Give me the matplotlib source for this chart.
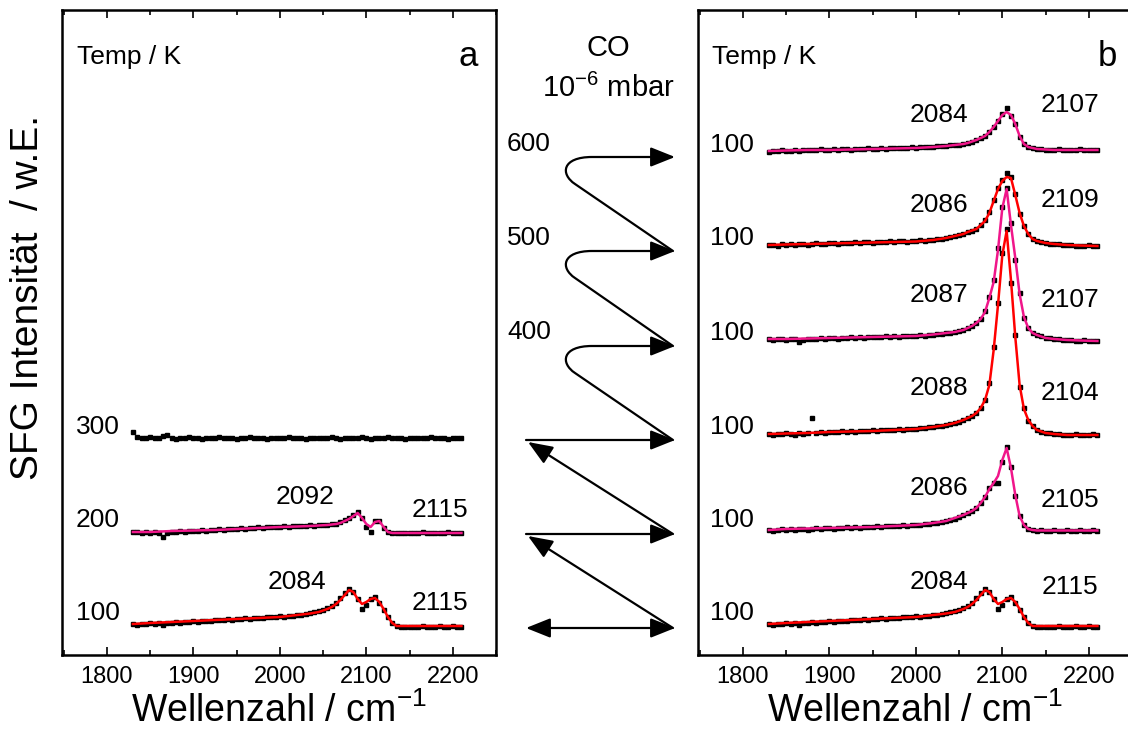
import numpy as np
import matplotlib
matplotlib.use("Agg")
import matplotlib.pyplot as plt
from matplotlib.ticker import MultipleLocator
from matplotlib.patches import FancyArrowPatch, ArrowStyle
from matplotlib.path import Path

plt.rcParams['font.family'] = ['Liberation Sans', 'DejaVu Sans']
plt.rcParams['mathtext.fontset'] = 'custom'
plt.rcParams['mathtext.rm'] = 'Liberation Sans'

# ---------------------------------------------------------------- data
wavenumber = np.arange(1830, 2211, 5)          # measured points, cm-1
fit_wavenumber = [1830, 1850, 1875, 1900, 1925, 1950, 1975, 2000, 2020, 2035,
                  2045, 2055, 2060, 2065, 2070, 2075, 2080, 2085, 2090, 2095,
                  2100, 2105, 2110, 2115, 2120, 2125, 2130, 2135, 2140, 2150,
                  2160, 2175, 2190, 2210]

# panel a: spectra recorded at the adsorption temperature
sfg_100K = [1, 0, 1, 1, 2, 1, 2, 0, 2, 2,
            3, 2, 3, 3, 4, 3, 4, 4, 4, 5,
            5, 5, 6, 5, 6, 6, 7, 6, 7, 7,
            7, 8, 8, 8, 9, 8, 9, 9, 10, 10,
            11, 12, 13, 14, 15, 17, 19, 22, 27, 32,
            36, 33, 26, 16, 20, 26, 28, 22, 15, 8,
            2, -1, -2, -2, -2, -2, -2, -1, -2, -2,
            -2, -1, -2, -2, -1, -2, -2]
fit_100K = [1, 2, 3, 4, 5, 6, 7, 8, 10, 11.5, 13, 16, 18, 21, 25, 30, 35, 33,
            26, 21, 23, 26, 27, 23, 16, 8, 2, -1, -1, -1, -1, -1, -1, -1]

sfg_200K = [-2, -2, -3, -2, -3, -2, -3, -7, -3, -2,
            -2, -1, -2, -1, -1, -1, 0, -1, 0, 0,
            1, 0, 1, 1, 1, 2, 1, 2, 2, 3,
            2, 3, 3, 3, 3, 4, 3, 4, 4, 4,
            4, 5, 4, 5, 5, 5, 6, 6, 8, 10,
            12, 15, 18, 12, 3, -2, 9, 9, 2, -2,
            -3, -3, -3, -3, -3, -3, -3, -2, -3, -3,
            -3, -3, -3, -2, -3, -3, -3]
fit_200K = [-2, -2, -1, -0.5, 0, 1, 2, 3, 3.5, 4, 4.5, 5, 5.5, 6, 7, 9, 11,
            14, 17, 12, 6, 3, 8, 9, 3, -2, -3, -3, -3, -3, -3, -3, -3, -3]

sfg_300K = [3, -2, -3, -3, -2, -3, -3, -1, 0, -3,
            -4, -3, -3, -2, -3, -3, -4, -3, -3, -3,
            -2, -3, -3, -3, -4, -3, -3, -2, -3, -3,
            -3, -4, -3, -3, -3, -3, -2, -3, -3, -3,
            -4, -3, -3, -3, -3, -3, -2, -3, -4, -3,
            -3, -3, -3, -2, -3, -4, -3, -3, -3, -2,
            -3, -3, -3, -4, -3, -3, -3, -3, -3, -2,
            -3, -3, -3, -4, -3, -3, -3]

# panel b: spectra recorded at 100 K after annealing to 200 ... 600 K
sfg_b200 = [0, -1, 0, 1, 0, 1, 0, 1, 1, 0,
            1, 2, 1, 2, 2, 1, 2, 2, 3, 2,
            3, 2, 3, 3, 3, 4, 3, 4, 4, 4,
            4, 5, 4, 5, 5, 5, 6, 6, 7, 7,
            8, 9, 10, 11, 13, 15, 17, 19, 22, 27,
            33, 42, 47, 47, 68, 83, 63, 34, 14, 5,
            1, 0, -1, 0, -1, -1, 0, -1, -1, 0,
            -1, -1, 0, -1, -1, 0, -1]
fit_b200 = [0, 1, 1.5, 2, 2.5, 3, 4, 5, 7, 9, 12, 15, 17, 19, 22, 27, 33, 41,
            47, 54, 70, 82, 62, 35, 14, 5, 1, 0, -0.5, -0.5, -0.5, -0.5, -0.5, -0.5]

sfg_b300 = [1, 0, 1, 1, 2, 1, 0, 2, 1, 2,
            17, 2, 3, 2, 3, 3, 3, 4, 3, 4,
            3, 4, 4, 4, 5, 4, 5, 5, 5, 5,
            6, 5, 6, 6, 6, 7, 7, 8, 8, 9,
            9, 10, 11, 12, 13, 15, 17, 19, 22, 27,
            35, 52, 88, 132, 182, 206, 152, 100, 48, 27,
            14, 9, 5, 3, 2, 2, 1, 1, 0, 0,
            0, 1, 0, 0, 0, 1, 0]
fit_b300 = [1, 1.5, 2, 3, 3.5, 4, 5, 6, 8, 10, 12, 15, 17, 19, 22, 27, 35, 50,
            85, 130, 180, 204, 155, 98, 50, 26, 15, 9, 5, 2, 1, 0, 0, 0]

sfg_b400 = [1, 0, 1, 1, 0, 1, 1, -2, 0, 1,
            1, 1, 2, 1, 2, 2, 1, 2, 2, 3,
            2, 3, 2, 3, 3, 3, 3, 4, 3, 4,
            3, 4, 4, 4, 4, 5, 4, 5, 5, 6,
            6, 7, 7, 8, 9, 10, 12, 14, 17, 21,
            29, 43, 60, 92, 133, 152, 117, 80, 47, 22,
            12, 7, 5, 4, 2, 2, 1, 1, 0, 0,
            0, -1, -1, 0, -1, -1, -1]
fit_b400 = [1, 1, 1.5, 2, 2.5, 3, 3.5, 4, 5.5, 7, 8, 10, 12, 14, 17, 21, 28, 42,
            58, 90, 132, 151, 115, 82, 46, 23, 12, 7, 5, 2, 1, 0, -0.5, -1]

sfg_b500 = [0, 0, -1, 1, 0, 1, 0, 1, 1, 0,
            1, 2, 1, 1, 2, 2, 1, 2, 2, 2,
            3, 2, 3, 3, 2, 3, 3, 3, 4, 3,
            4, 4, 3, 4, 4, 5, 4, 5, 5, 6,
            6, 7, 8, 9, 10, 11, 13, 14, 16, 20,
            25, 33, 45, 57, 65, 72, 68, 51, 31, 19,
            11, 6, 4, 3, 2, 1, 1, 1, 0, 0,
            0, -1, -1, -1, 0, -1, -1]
fit_b500 = [0, 0.5, 1, 1.5, 2, 2.5, 3, 3.5, 5, 7, 9, 11, 13, 14.5, 16, 20, 24,
            32, 44, 56, 64, 68, 67, 50, 32, 19, 11, 6, 4, 2, 1, 0, -0.5, -1]

sfg_b600 = [-2, -1, -1, 0, -1, -1, 0, -1, 0, 0,
            0, 0, 1, 0, 0, 1, 0, 1, 1, 0,
            1, 1, 1, 2, 1, 1, 2, 1, 2, 2,
            2, 2, 2, 3, 2, 3, 3, 3, 3, 4,
            4, 4, 5, 5, 5, 6, 7, 8, 10, 12,
            14, 18, 23, 29, 36, 42, 34, 26, 13, 6,
            3, 2, 1, 1, 0, 0, 0, 1, 0, 0,
            0, 0, 1, 0, 0, 0, 0]
fit_b600 = [-1, -0.5, 0, 0, 0.5, 1, 1.5, 2, 3, 4, 5, 6, 7, 8.5, 10, 12, 14, 18,
            23, 29, 35, 38, 35, 26, 14, 6, 3, 2, 1, 0.5, 0, 0, 0, 0]

temps_a = ["100", "200", "300"]
peaks_a = [("2084", "2115"), ("2092", "2115"), None]
temps_b = ["100"] * 6
peaks_b = [("2084", "2115"), ("2086", "2105"), ("2088", "2104"),
           ("2087", "2107"), ("2086", "2109"), ("2084", "2107")]
anneal_temps = ["400", "500", "600"]

# ---------------------------------------------------------------- style
RED = "#ff0000"
PINK = "#f0168a"
STEP = 95            # vertical offset between stacked spectra
XLIM = (1748, 2250)
YLIM = (-30, 615)
FS = 19

fig = plt.figure(figsize=(11.28, 7.37), dpi=100)
fig.patch.set_facecolor("white")

W, H = 1128, 737
ax_a = fig.add_axes([62 / W, 82 / H, 434 / W, 645 / H])
ax_b = fig.add_axes([698 / W, 82 / H, 434 / W, 645 / H])


def style_axis(ax):
    ax.set_xlim(*XLIM)
    ax.set_ylim(*YLIM)
    ax.set_yticks([])
    ax.xaxis.set_major_locator(MultipleLocator(100))
    ax.xaxis.set_minor_locator(MultipleLocator(50))
    ax.tick_params(axis="x", which="both", direction="in", top=True,
                   bottom=True, width=1.2, labelsize=17, pad=8)
    ax.tick_params(axis="x", which="major", length=6)
    ax.tick_params(axis="x", which="minor", length=3.5)
    for sp in ax.spines.values():
        sp.set_linewidth(1.8)
    ax.set_xlabel("Wellenzahl / cm$^{\\mathregular{-1}}$", fontsize=27,
                  labelpad=3)


def draw_trace(ax, offset, data, fit=None, color=None):
    ax.plot(wavenumber, np.asarray(data, float) + offset, ls="none",
            marker="s", ms=3.4, mfc="black", mec="black", zorder=2)
    if fit is not None:
        ax.plot(fit_wavenumber, np.asarray(fit, float) + offset, color=color,
                lw=1.8, zorder=3)


for ax in (ax_a, ax_b):
    style_axis(ax)

# panel a
draw_trace(ax_a, 0, sfg_100K, fit_100K, RED)
draw_trace(ax_a, STEP, sfg_200K, fit_200K, PINK)
draw_trace(ax_a, 2 * STEP, sfg_300K)

temp_y_a = [12, 105, 198]
peak_pos_a = [((2020, 43), (2185, 22)), ((2029, 128), (2185, 115)), None]
for t, ty, pk, pos in zip(temps_a, temp_y_a, peaks_a, peak_pos_a):
    ax_a.text(1789.5, ty, t, fontsize=FS, ha="center", va="center")
    if pk is not None:
        for lab, (px, py) in zip(pk, pos):
            ax_a.text(px, py, lab, fontsize=FS, ha="center", va="center")
ax_a.text(1765, 568, "Temp / K", fontsize=FS, ha="left", va="center")
ax_a.text(2217.5, 568, "a", fontsize=25, ha="center", va="center")
ax_a.set_ylabel("SFG Intensität  / w.E.", fontsize=28)
ax_a.yaxis.set_label_coords(-0.037, 0.555)

# panel b
spectra_b = [(sfg_100K, fit_100K, RED), (sfg_b200, fit_b200, PINK),
             (sfg_b300, fit_b300, RED), (sfg_b400, fit_b400, PINK),
             (sfg_b500, fit_b500, RED), (sfg_b600, fit_b600, PINK)]
temp_y_b = [12, 105, 198, 292, 387, 480]
peak_y_b = [(43, 38), (137, 125), (237, 232), (330, 325), (420, 425), (510, 520)]
for i, (data, fit, col) in enumerate(spectra_b):
    draw_trace(ax_b, i * STEP, data, fit, col)
    ax_b.text(1787, temp_y_b[i], temps_b[i], fontsize=FS, ha="center",
              va="center")
    left_lab, right_lab = peaks_b[i]
    ax_b.text(2027, peak_y_b[i][0], left_lab, fontsize=FS, ha="center",
              va="center")
    ax_b.text(2178, peak_y_b[i][1], right_lab, fontsize=FS, ha="center",
              va="center")
ax_b.text(1764, 568, "Temp / K", fontsize=FS, ha="left", va="center")
ax_b.text(2221, 568, "b", fontsize=25, ha="center", va="center")

# ---------------------------------------------------------------- temperature program
over = fig.add_axes([0, 0, 1, 1], zorder=5)
over.set_xlim(0, W)
over.set_ylim(H, 0)
over.axis("off")

over.text(608, 48, "CO", fontsize=21, ha="center", va="center")
over.text(608, 88, "10$^{\\mathregular{-6}}$ mbar", fontsize=21, ha="center",
          va="center")

x_l, x_r = 526, 675
levels = [628, 534, 440, 346, 251, 157]
head = ArrowStyle("-|>", head_length=1.5, head_width=0.6)
head2 = ArrowStyle("<|-|>", head_length=1.5, head_width=0.6)
kw = dict(mutation_scale=10, color="black", lw=1.6, shrinkA=0, shrinkB=0)

# bottom: both directions
over.add_patch(FancyArrowPatch((x_l, levels[0]), (x_r, levels[0]),
                               arrowstyle=head2, **kw))
for k in (1, 2):
    over.add_patch(FancyArrowPatch((x_l, levels[k]), (x_r, levels[k]),
                                   arrowstyle=head, **kw))
    over.add_patch(FancyArrowPatch((x_r - 2, levels[k - 1]),
                                   (x_l + 2, levels[k] + 2),
                                   arrowstyle=head, **kw))

# annealing loops: up-left, hook round, back to the right
for k in (3, 4, 5):
    y0, y1 = levels[k - 1], levels[k]
    verts = [(x_r - 2, y0), (575, y1 + 27), (560, y1 + 17), (562, y1),
             (592, y1), (x_r, y1)]
    codes = [Path.MOVETO, Path.LINETO, Path.CURVE4, Path.CURVE4, Path.CURVE4,
             Path.LINETO]
    over.add_patch(FancyArrowPatch(path=Path(verts, codes), arrowstyle=head,
                                   mutation_scale=10, color="black", lw=1.6))

for t, y in zip(anneal_temps, [332, 238, 144]):
    over.text(529, y, t, fontsize=FS, ha="center", va="center")

fig.savefig("out.png", dpi=100, facecolor="white")
